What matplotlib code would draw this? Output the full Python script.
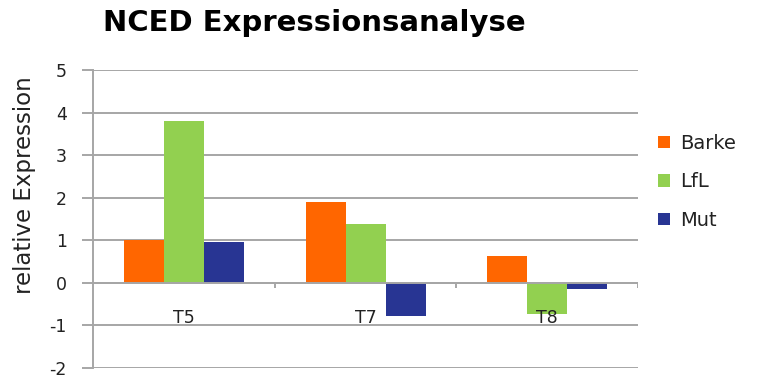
import numpy as np
import matplotlib
matplotlib.use('Agg')
from matplotlib import pyplot as plt

# Relative NCED expression per time point and line
categories = ['T5', 'T7', 'T8']
series = ['Barke', 'LfL', 'Mut']
barke = [1.0, 1.9, 0.62]
lfl = [3.8, 1.38, -0.73]
mut = [0.97, -0.77, -0.14]
colors = ['#FF6600', '#92D050', '#283593']
yticks = [-2, -1, 0, 1, 2, 3, 4, 5]

grid_col = '#a6a6a6'
text_col = '#222222'

fig = plt.figure(figsize=(7.57, 3.78), dpi=100)
ax = fig.add_axes([0.1229, 0.0265, 0.72, 0.788])

x = np.arange(len(categories)) + 0.5
w = 0.22
for k, (vals, name, c) in enumerate(zip([barke, lfl, mut], series, colors)):
    ax.bar(x + (k - 1) * w, vals, w, color=c, label=name, zorder=3)

ax.set_xlim(0, len(categories))
ax.set_ylim(-2, 5)
ax.set_yticks(yticks)
ax.set_yticklabels([str(t) for t in yticks], fontsize=12.5, color=text_col)
ax.yaxis.grid(True, color=grid_col, linewidth=1.4, zorder=0)
ax.tick_params(axis='y', length=8, width=1.4, color=grid_col, pad=11)
ax.set_xticks([])

for s in ['top', 'right', 'bottom']:
    ax.spines[s].set_visible(False)
ax.spines['left'].set_color(grid_col)
ax.spines['left'].set_linewidth(1.4)

# zero axis with category separators
ax.axhline(0, color=grid_col, linewidth=1.4, zorder=4)
ax.vlines(np.arange(1, len(categories) + 1), -0.12, 0, color=grid_col,
          linewidth=1.4, zorder=4)
for xi, cat in zip(x, categories):
    ax.text(xi, -0.83, cat, ha='center', va='center', fontsize=12.5,
            color=text_col, zorder=5)

fig.text(0.033, 0.51, 'relative Expression', rotation=90, ha='center',
         va='center', fontsize=16.5, color=text_col)

fig.text(0.4155, 0.939, 'NCED Expressionsanalyse', ha='center', va='center',
         fontsize=21, fontweight='bold')

ax.legend(loc='center left', bbox_to_anchor=(0.869, 0.519),
          bbox_transform=fig.transFigure, frameon=False, fontsize=14,
          handlelength=0.62, handleheight=0.62, handletextpad=0.55,
          labelspacing=1.0, borderpad=0, borderaxespad=0,
          labelcolor=text_col)

fig.savefig('out.png', dpi=100)
